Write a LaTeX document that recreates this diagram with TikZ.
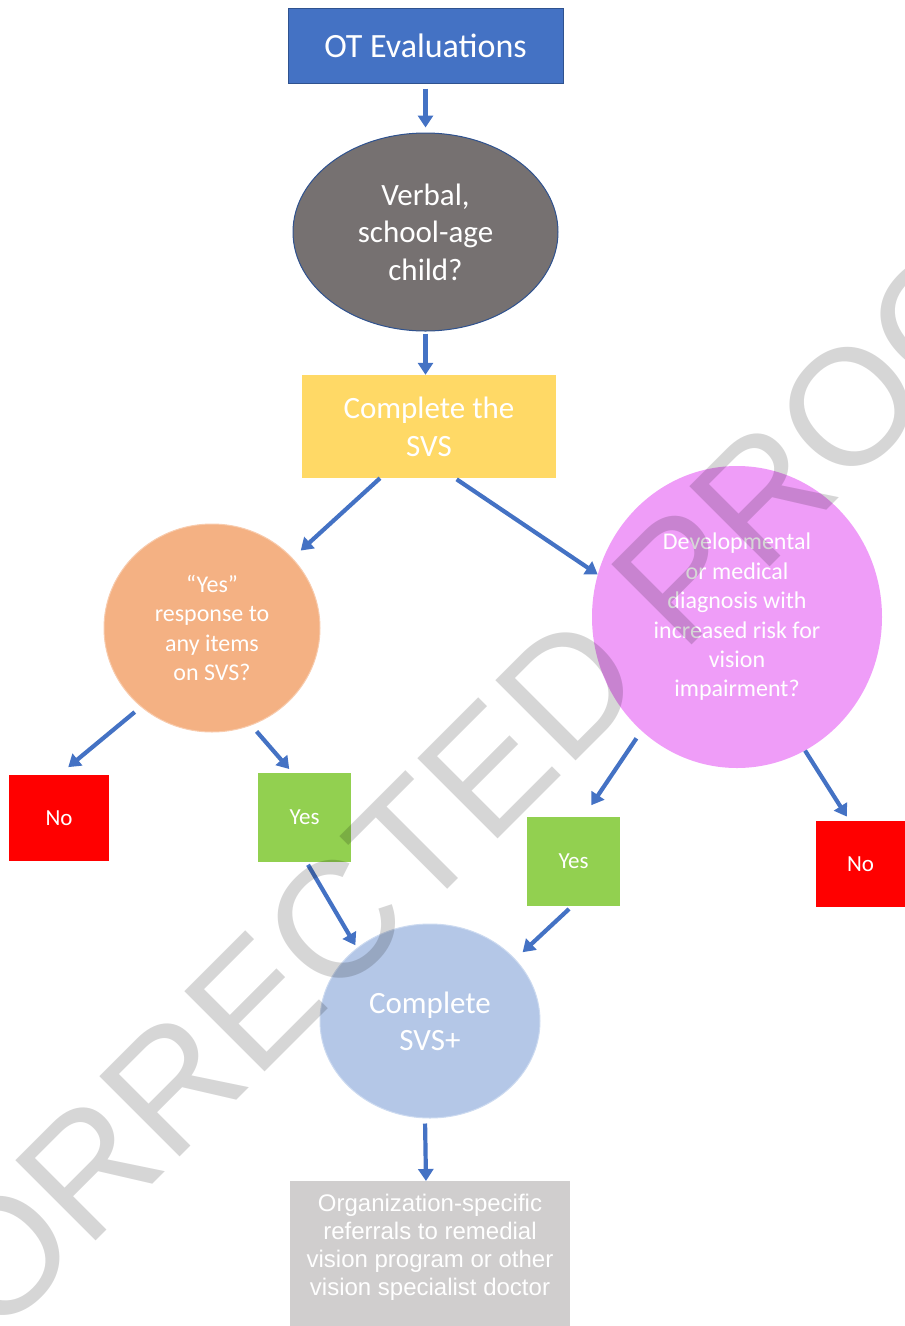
\documentclass[tikz,border=0pt]{standalone}
\usepackage{fontspec}
\setmainfont{Carlito}
\newfontfamily\arialf{Liberation Sans}
\usetikzlibrary{shapes.geometric,arrows.meta}
\definecolor{arrowblue}{HTML}{4472C4}
\definecolor{otblue}{HTML}{4472C4}
\definecolor{otborder}{HTML}{2F528F}
\definecolor{verbalgray}{HTML}{767171}
\definecolor{svsyellow}{HTML}{FFD966}
\definecolor{respfill}{HTML}{F4B183}
\definecolor{respborder}{HTML}{F8CBAD}
\definecolor{diagfill}{HTML}{EF9DF8}
\definecolor{nored}{HTML}{FF0000}
\definecolor{yesgreen}{HTML}{92D050}
\definecolor{plusfill}{HTML}{B4C7E7}
\definecolor{plusborder}{HTML}{CCDAF0}
\definecolor{reffill}{HTML}{D0CECE}
\begin{document}
\begin{tikzpicture}[x=1pt,y=-1pt,
  arr/.style={draw=arrowblue, line width=4.2pt, -{Triangle[width=15pt,length=12pt]}},
  base/.style={inner sep=0pt, text=white, align=center},
  ell/.style={base, ellipse},
  sq/.style={base, rectangle, minimum width=93pt, minimum height=89pt, font=\fontsize{23}{27}\selectfont}]
\useasboundingbox (0,0) rectangle (905,1326);

\node[base, rectangle, fill=otblue, draw=otborder, line width=1pt, minimum width=275pt, minimum height=75pt,
  font=\fontsize{34}{40}\selectfont] (ot) at (425.5,45.5) {OT Evaluations};

\node[ell, fill=verbalgray, draw=otborder, line width=1pt, minimum width=265pt, minimum height=198pt,
  font=\fontsize{31}{37.5}\selectfont] (verbal) at (425.5,232) {Verbal,\\school-age\\child?};

\node[base, rectangle, fill=svsyellow, minimum width=254pt, minimum height=103pt,
  font=\fontsize{31}{38}\selectfont] (svs) at (429,426.5) {Complete the\\SVS};

\node[ell, fill=respfill, draw=respborder, line width=1pt, minimum width=216pt, minimum height=208pt,
  font=\fontsize{24}{29.6}\selectfont] (resp) at (212,628) {“Yes”\\response to\\any items\\on SVS?};

\node[ell, fill=diagfill, minimum width=290pt, minimum height=302pt,
  font=\fontsize{24}{29.4}\selectfont] (diag) at (737,617)
  {Developmental\\or medical\\diagnosis with\\increased risk for\\vision\\impairment?};

\node[sq, fill=nored, minimum width=100pt, minimum height=86pt] (noL) at (59,818) {No};
\node[sq, fill=yesgreen] (yesL) at (304.5,817.5) {Yes};
\node[sq, fill=yesgreen] (yesR) at (573.5,861.5) {Yes};
\node[sq, fill=nored, minimum width=89pt, minimum height=86pt] (noR) at (860.5,864) {No};

\node[ell, fill=plusfill, draw=plusborder, line width=1pt, minimum width=220pt, minimum height=194pt,
  font=\fontsize{31}{37}\selectfont] (plus) at (430,1021) {Complete\\SVS+};

\node[rectangle, fill=reffill, text=white, inner xsep=0pt, inner ysep=13pt, anchor=north] (ref) at (430,1181)
  {\parbox[t][130pt][t]{280pt}{\centering\arialf\fontsize{24}{28}\selectfont
   Organization-specific\\referrals to remedial\\vision program or other\\vision specialist doctor}};

\draw[arr] ([yshift=-5pt]ot.south) -- ([yshift=5pt]verbal.north);
\draw[arr] ([yshift=-2pt]verbal.south) -- (verbal.south |- svs.north);
\draw[arr, shorten >=11pt] ([xshift=-49pt]svs.south) -- (resp.41);
\draw[arr, shorten <=2pt] ([xshift=26pt]svs.south) -- (diag.163);
\draw[arr, shorten <=8pt, shorten >=12pt] (resp.228) -- (noL.north);
\draw[arr, shorten <=8pt, shorten >=5pt] (resp.-68) -- ([xshift=-12pt]yesL.north);
\draw[arr, shorten <=9pt, shorten >=14pt] (diag.230) -- ([xshift=10pt]yesR.north);
\draw[arr, shorten >=5pt] (diag.-63) -- ([xshift=-11pt]noR.north);
\draw[arr, shorten <=3pt, shorten >=3pt] ([xshift=2pt]yesL.south) -- (plus.135);
\draw[arr, shorten <=4pt, shorten >=10pt] ([xshift=-1.5pt]yesR.south) -- (plus.36);
\draw[arr, shorten <=5pt] ([xshift=-5pt]plus.south) -- ([xshift=-4pt]ref.north);

\node[anchor=base west, rotate=45, inner sep=0pt, text=black, text opacity=0.16,
  font=\arialf\fontsize{165}{165}\selectfont] (wm) at (-257,1594) {UNCORRECTED PROOF};
\end{tikzpicture}
\end{document}
